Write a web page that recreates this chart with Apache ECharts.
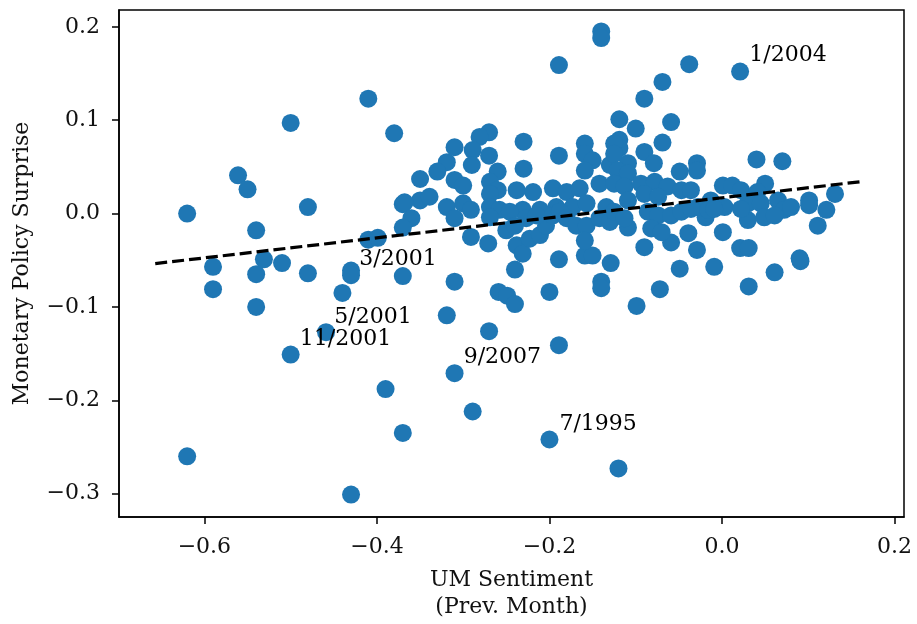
<html>

<head>
  <meta charset="utf-8">
  <script src="https://cdnjs.cloudflare.com/ajax/libs/echarts/6.0.0/echarts.min.js"></script>
  <title>UM Sentiment vs Monetary Policy Surprise</title>
</head>

<body style="margin: 0; overflow: hidden;">
  <div id="main" style="width: 917px; height: 624px;"></div>
  <script>
    // [UM sentiment (prev. month), monetary policy surprise]
    var points = [
      [-0.410, 0.123], [-0.500, 0.097], [-0.380, 0.086], [-0.561, 0.041], [-0.550, 0.026], [-0.620, 0.000],
      [-0.480, 0.007], [-0.540, -0.018], [-0.410, -0.028], [-0.399, -0.026], [-0.370, 0.010], [-0.360, -0.005],
      [-0.370, -0.015], [-0.350, 0.014], [-0.350, 0.037],
      [-0.590, -0.057], [-0.590, -0.081], [-0.540, -0.065], [-0.531, -0.049], [-0.510, -0.053], [-0.480, -0.064],
      [-0.430, -0.061], [-0.430, -0.066], [-0.540, -0.100], [-0.440, -0.085], [-0.370, -0.067], [-0.459, -0.127],
      [-0.500, -0.151], [-0.390, -0.188], [-0.370, -0.235], [-0.620, -0.260], [-0.430, -0.301],
      [-0.310, -0.073], [-0.319, -0.109], [-0.270, -0.126], [-0.310, -0.171], [-0.289, -0.212], [-0.200, -0.242],
      [-0.120, -0.273], [-0.189, -0.141], [-0.259, -0.084], [-0.249, -0.088], [-0.240, -0.097], [-0.240, -0.060],
      [-0.200, -0.084], [-0.189, -0.049], [-0.140, -0.073], [-0.140, -0.080], [-0.099, -0.099], [-0.129, -0.053],
      [-0.159, -0.045], [-0.150, -0.045], [-0.090, -0.036], [-0.072, -0.081], [-0.049, -0.059], [-0.009, -0.057],
      [0.031, -0.078], [0.061, -0.063], [0.091, -0.051], [0.090, -0.048], [-0.029, -0.039], [0.021, -0.037],
      [0.031, -0.037], [0.001, -0.020], [-0.059, -0.031], [-0.039, -0.021], [-0.109, -0.015], [0.111, -0.013],
      [0.121, 0.004], [0.101, 0.014], [0.131, 0.021], [-0.019, -0.004], [0.030, -0.007],
      [-0.140, 0.195], [-0.140, 0.188], [-0.189, 0.159], [-0.038, 0.160], [0.021, 0.152], [-0.069, 0.141],
      [-0.090, 0.123], [-0.059, 0.098], [-0.119, 0.101], [-0.100, 0.091], [-0.069, 0.076], [-0.090, 0.066],
      [-0.079, 0.054], [-0.049, 0.045], [-0.029, 0.054], [-0.029, 0.046], [0.040, 0.058], [0.070, 0.056],
      [0.001, 0.030], [0.012, 0.030], [0.050, 0.032],
      [-0.230, 0.077], [-0.270, 0.087], [-0.281, 0.082], [-0.310, 0.071], [-0.289, 0.068], [-0.270, 0.062],
      [-0.290, 0.052], [-0.319, 0.055], [-0.330, 0.045], [-0.310, 0.036], [-0.300, 0.030], [-0.260, 0.045],
      [-0.269, 0.034], [-0.230, 0.048], [-0.189, 0.062], [-0.159, 0.075], [-0.159, 0.064], [-0.150, 0.057],
      [-0.159, 0.046], [-0.119, 0.079], [-0.119, 0.070], [-0.130, 0.052], [-0.109, 0.054],
      [-0.260, 0.025], [-0.269, 0.021], [-0.238, 0.025], [-0.219, 0.023], [-0.196, 0.027], [-0.180, 0.023],
      [-0.165, 0.027], [-0.142, 0.032], [-0.368, 0.012], [-0.339, 0.018], [-0.319, 0.007], [-0.300, 0.011],
      [-0.291, 0.004], [-0.269, 0.007], [-0.231, 0.004], [-0.211, 0.004], [-0.192, 0.007], [-0.173, 0.007],
      [-0.157, 0.011], [-0.134, 0.007], [-0.310, -0.005], [-0.291, -0.025], [-0.271, -0.032], [-0.258, 0.004],
      [-0.269, -0.004], [-0.246, 0.002], [-0.250, -0.018], [-0.240, -0.013], [-0.238, -0.034], [-0.231, -0.043],
      [-0.223, -0.027], [-0.211, -0.023], [-0.204, -0.013], [-0.227, -0.005], [-0.215, -0.002], [-0.196, -0.002],
      [-0.188, 0.002], [-0.180, -0.005], [-0.169, -0.013], [-0.157, -0.013], [-0.159, -0.029], [-0.142, -0.005],
      [-0.130, -0.009],
      [-0.125, 0.075], [-0.125, 0.064], [-0.121, 0.046], [-0.109, 0.043], [-0.125, 0.032], [-0.113, 0.029],
      [-0.094, 0.032], [-0.078, 0.034], [-0.063, 0.029], [-0.047, 0.025], [-0.036, 0.025], [-0.090, 0.021],
      [-0.074, 0.018], [-0.109, 0.014], [0.022, 0.025], [0.041, 0.023], [-0.013, 0.014], [0.003, 0.007],
      [0.030, 0.011], [0.045, 0.011], [0.065, 0.014], [0.072, 0.004], [-0.028, 0.007], [-0.016, 0.004],
      [-0.125, 0.002], [-0.113, -0.005], [-0.086, 0.002], [-0.074, -0.002], [-0.059, -0.002], [-0.047, 0.002],
      [-0.036, 0.005], [-0.082, -0.016], [-0.070, -0.020], [-0.009, 0.005], [0.022, 0.005], [0.049, -0.004],
      [0.061, -0.002], [0.080, 0.007], [0.101, 0.009]
    ];

    // dashed regression line endpoints
    var fitLine = [[-0.657, -0.0536], [0.165, 0.0346]];

    // annotated months (anchor = left edge, vertical middle of text)
    var notes = [
      { name: '1/2004', value: [0.031, 0.169] },
      { name: '3/2001', value: [-0.421, -0.049] },
      { name: '5/2001', value: [-0.450, -0.111] },
      { name: '11/2001', value: [-0.490, -0.135] },
      { name: '9/2007', value: [-0.300, -0.154] },
      { name: '7/1995', value: [-0.189, -0.2255] }
    ];

    var xTicks = [-0.6, -0.4, -0.2, 0.0, 0.2];
    var yTicks = [-0.3, -0.2, -0.1, 0.0, 0.1, 0.2];

    var FONT = 'DejaVu Serif';
    function fmt(v) {
      return v.toFixed(1).replace('-', '\u2212');
    }

    var myChart = echarts.init(document.getElementById('main'));
    var option = {
      animation: false,
      backgroundColor: '#fff',
      grid: {
        left: 119, right: 13, top: 10, bottom: 107,
        outerBoundsMode: 'none',
        show: true, borderColor: '#000', borderWidth: 1.5
      },
      xAxis: {
        type: 'value',
        min: -0.699,
        max: 0.211,
        splitLine: { show: false },
        axisLine: { onZero: false, lineStyle: { color: '#000', width: 1.5 } },
        axisTick: { show: true, length: 7, lineStyle: { color: '#000', width: 1.5 }, customValues: xTicks },
        axisLabel: { customValues: xTicks, formatter: fmt, color: '#111', fontFamily: FONT, fontSize: 22, margin: 19 },
        name: 'UM Sentiment\n(Prev. Month)',
        nameLocation: 'middle',
        nameGap: 50,
        nameTextStyle: { color: '#111', fontFamily: FONT, fontSize: 22, lineHeight: 27 }
      },
      yAxis: {
        type: 'value',
        min: -0.325,
        max: 0.218,
        splitLine: { show: false },
        axisLine: { onZero: false, lineStyle: { color: '#000', width: 1.5 } },
        axisTick: { show: true, length: 7, lineStyle: { color: '#000', width: 1.5 }, customValues: yTicks },
        axisLabel: { customValues: yTicks, formatter: fmt, color: '#111', fontFamily: FONT, fontSize: 22, margin: 19 },
        name: 'Monetary Policy Surprise',
        nameLocation: 'middle',
        nameGap: 86,
        nameTextStyle: { color: '#111', fontFamily: FONT, fontSize: 22 }
      },
      series: [
        {
          type: 'scatter',
          data: points,
          symbolSize: 18,
          itemStyle: { color: '#1f77b4', opacity: 1 },
          z: 2
        },
        {
          type: 'line',
          data: fitLine,
          showSymbol: false,
          symbol: 'none',
          lineStyle: { color: '#000', width: 3.2, type: [12, 5] },
          z: 4
        },
        {
          type: 'scatter',
          data: notes,
          symbol: 'circle',
          symbolSize: 1,
          itemStyle: { color: 'transparent', opacity: 1 },
          label: {
            show: true,
            formatter: '{b}',
            position: 'right',
            distance: 0,
            align: 'left',
            verticalAlign: 'middle',
            color: '#000',
            opacity: 1,
            fontFamily: FONT,
            fontSize: 22
          },
          z: 5
        }
      ]
    };
    myChart.setOption(option);
  </script>
</body>

</html>
